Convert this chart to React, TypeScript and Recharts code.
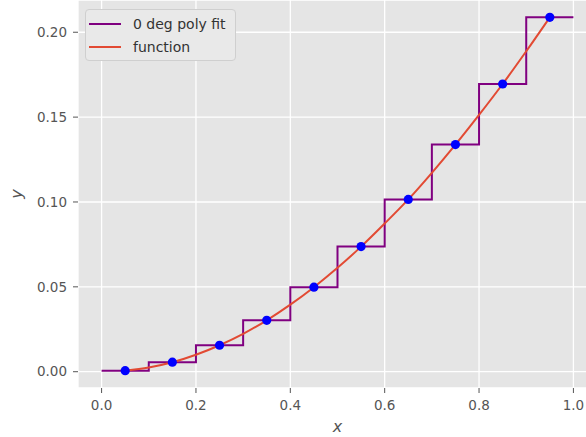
import {
  CartesianGrid,
  ComposedChart,
  Legend,
  Line,
  Scatter,
  XAxis,
  YAxis,
} from "recharts";

const FONT = "DejaVu Sans, sans-serif";
const STEP_COLOR = "#800080";
const FN_COLOR = "#E24A33";
const DOT_COLOR = "#0000FF";
const TICK_COLOR = "#555555";

// bin edges of the piecewise-constant fit, and the constant value in each bin
const binEdges = [0, 0.1, 0.2, 0.3, 0.4, 0.5, 0.6, 0.7, 0.8, 0.9, 1.0];
const binValues = [0.000625, 0.0056, 0.0156, 0.0303, 0.0498, 0.0737, 0.1015, 0.1338, 0.1695, 0.2088];

// sample points (bin midpoints)
const sampleX = [0.05, 0.15, 0.25, 0.35, 0.45, 0.55, 0.65, 0.75, 0.85, 0.95];
const sampleY = [0.000625, 0.0056, 0.0156, 0.0303, 0.0498, 0.0737, 0.1015, 0.1338, 0.1695, 0.2088];

// the underlying function
const fnX = [0.05, 0.1, 0.15, 0.2, 0.25, 0.3, 0.35, 0.4, 0.45, 0.5, 0.55, 0.6, 0.65, 0.7, 0.75, 0.8, 0.85, 0.9, 0.95];
const fnY = [
  0.000625, 0.0025, 0.0056, 0.01, 0.0156, 0.0223, 0.0303, 0.0395, 0.0498, 0.0612, 0.0737, 0.0873,
  0.1015, 0.1172, 0.1338, 0.1513, 0.1695, 0.1888, 0.2088,
];

const xTicks = [0, 0.2, 0.4, 0.6, 0.8, 1.0];
const yTicks = [0, 0.05, 0.1, 0.15, 0.2];

const stepData = binEdges.map((x, i) => ({ x, y: binValues[Math.min(i, binValues.length - 1)] }));
const sampleData = sampleX.map((x, i) => ({ x, y: sampleY[i] }));
const fnData = fnX.map((x, i) => ({ x, y: fnY[i] }));

const legendItems = [
  { label: "0 deg poly fit", color: STEP_COLOR },
  { label: "function", color: FN_COLOR },
];

function LegendBox() {
  return (
    <div
      style={{
        width: 151,
        height: 52,
        boxSizing: "border-box",
        border: "1px solid #cfcfcf",
        borderRadius: 4,
        background: "#e9e9e9",
        position: "relative",
        fontFamily: FONT,
        fontSize: 14,
        color: "#333",
      }}
    >
      {legendItems.map((item, i) => (
        <div
          key={item.label}
          style={{ position: "absolute", left: 3, top: 4 + i * 23.3, height: 20, display: "flex", alignItems: "center" }}
        >
          <span style={{ display: "inline-block", width: 32, height: 2, background: item.color }} />
          <span style={{ marginLeft: 12, whiteSpace: "nowrap" }}>{item.label}</span>
        </div>
      ))}
    </div>
  );
}

export default function App() {
  return (
    <div style={{ position: "fixed", left: 0, top: 0, width: 586, height: 437, overflow: "hidden", background: "#fff" }}>
      <ComposedChart width={597} height={437} margin={{ top: 0, right: 0, bottom: 0, left: 0 }}>
        <CartesianGrid fill="#E5E5E5" stroke="#ffffff" strokeWidth={1.3} />
        <XAxis
          type="number"
          dataKey="x"
          domain={[-0.05, 1.05]}
          allowDataOverflow
          ticks={xTicks}
          tickFormatter={(v: number) => v.toFixed(1)}
          height={49}
          axisLine={false}
          tickLine={{ stroke: TICK_COLOR }}
          tickSize={5}
          tickMargin={7}
          tick={{ fill: TICK_COLOR, fontSize: 13.5, fontFamily: FONT }}
          label={{
            content: ({ viewBox }: any) => (
              <text
                x={viewBox.x + viewBox.width / 2}
                y={426}
                textAnchor="middle"
                dominantBaseline="central"
                fill={TICK_COLOR}
                fontSize={16}
                fontStyle="italic"
                fontFamily={FONT}
              >
                x
              </text>
            ),
          }}
        />
        <YAxis
          type="number"
          dataKey="y"
          domain={[-0.0096, 0.219]}
          allowDataOverflow
          ticks={yTicks}
          tickFormatter={(v: number) => v.toFixed(2)}
          width={78}
          axisLine={false}
          tickLine={{ stroke: TICK_COLOR }}
          tickSize={5}
          tickMargin={6}
          tick={{ fill: TICK_COLOR, fontSize: 13.5, fontFamily: FONT }}
          label={{
            content: ({ viewBox }: any) => {
              const cy = viewBox.y + viewBox.height / 2;
              return (
                <text
                  x={16}
                  y={cy}
                  transform={`rotate(-90 16 ${cy})`}
                  textAnchor="middle"
                  dominantBaseline="central"
                  fill={TICK_COLOR}
                  fontSize={16}
                  fontStyle="italic"
                  fontFamily={FONT}
                >
                  y
                </text>
              );
            },
          }}
        />
        <Legend
          layout="horizontal"
          verticalAlign="middle"
          align="center"
          wrapperStyle={{ position: "absolute", left: 85, top: 9, width: 151, height: 52 }}
          content={() => <LegendBox />}
        />
        <Line
          data={stepData}
          dataKey="y"
          type="stepAfter"
          name="0 deg poly fit"
          stroke={STEP_COLOR}
          strokeWidth={2}
          dot={false}
          activeDot={false}
          isAnimationActive={false}
        />
        <Scatter
          data={sampleData}
          dataKey="y"
          fill={DOT_COLOR}
          legendType="none"
          isAnimationActive={false}
          shape={(p: any) => <circle cx={p.cx} cy={p.cy} r={4.6} fill={DOT_COLOR} />}
        />
        <Line
          data={fnData}
          dataKey="y"
          type="monotone"
          name="function"
          stroke={FN_COLOR}
          strokeWidth={2}
          dot={false}
          activeDot={false}
          isAnimationActive={false}
        />
      </ComposedChart>
    </div>
  );
}
